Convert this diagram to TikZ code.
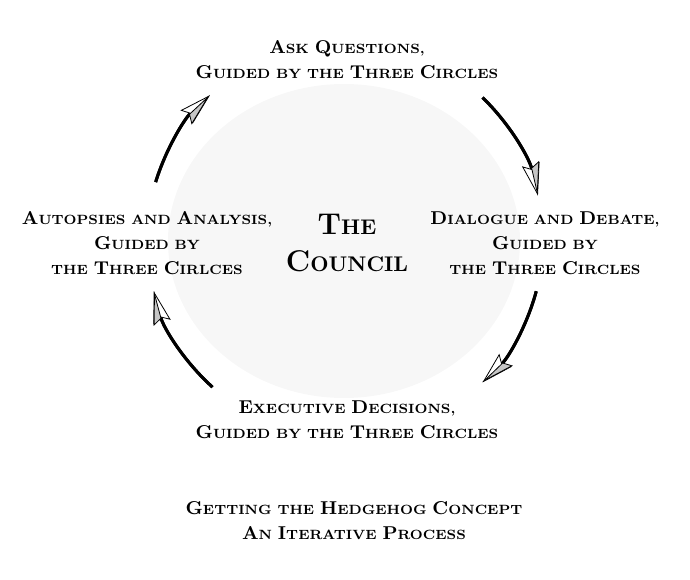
\documentclass[tikz,border=0pt]{standalone}
\usetikzlibrary{arrows.meta,positioning,calc}
\newcommand\Cap[1]{{\fontsize{9.3}{12.5}\selectfont #1}}
\newcommand\HubCap[1]{{\fontsize{15}{18.5}\selectfont #1}}
\tikzset{
 stage/.style={align=center,inner sep=0pt,font=\fontsize{6.7}{12.5}\selectfont\bfseries},
 hubtext/.style={align=center,inner sep=0pt,font=\fontsize{10.6}{18.5}\selectfont\bfseries},
 cyclearrow/.style={line width=1.5pt,
   -{Stealth[length=16pt,width=9pt,inset=2.5pt,line width=0.4pt,fill=white]}},
 cycleshade/.style={line width=1.5pt,
   -{Stealth[length=16pt,width=9pt,inset=2.5pt,line width=0.4pt,fill=gray!45,#1]}}
}
\begin{document}
\begin{tikzpicture}[x=0.5pt,y=0.5pt]
\useasboundingbox (0,0) rectangle (690,579);
\fill[gray!6] (344,338) ellipse[x radius=176,y radius=157];
\coordinate (hub) at (345,339);
% stages of the cycle
\node[hubtext] (council) at (347,336) {\HubCap{T}HE\\\HubCap{C}OUNCIL};
\node[stage] (ask) at (347,519) {\Cap{A}SK \Cap{Q}UESTIONS,\\\Cap{G}UIDED BY THE \Cap{T}HREE \Cap{C}IRCLES};
\node[stage] (debate) at (545,336) {\Cap{D}IALOGUE AND \Cap{D}EBATE,\\\Cap{G}UIDED BY\\THE \Cap{T}HREE \Cap{C}IRCLES};
\node[stage] (decide) at (347,159) {\Cap{E}XECUTIVE \Cap{D}ECISIONS,\\\Cap{G}UIDED BY THE \Cap{T}HREE \Cap{C}IRCLES};
\node[stage] (autopsy) at (147,336) {\Cap{A}UTOPSIES AND \Cap{A}NALYSIS,\\\Cap{G}UIDED BY\\THE \Cap{T}HREE \Cap{C}IRLCES};
\node[stage] (caption) at (354,58) {\Cap{G}ETTING THE \Cap{H}EDGEHOG \Cap{C}ONCEPT\\\Cap{A}N \Cap{I}TERATIVE \Cap{P}ROCESS};
% arrows round the council
\coordinate (a1) at ($(hub)+(163:198)$);
\coordinate (a2) at ($(hub)+(46:198)$);
\coordinate (a3) at ($(hub)+(-15:198)$);
\coordinate (a4) at ($(hub)+(228:198)$);
\draw[cyclearrow] (a1) arc[start angle=163,end angle=133,radius=198];
\draw[cycleshade=right] (a1) arc[start angle=163,end angle=133,radius=198];
\draw[cyclearrow] (a2) arc[start angle=46,end angle=13,radius=198];
\draw[cycleshade=left] (a2) arc[start angle=46,end angle=13,radius=198];
\draw[cyclearrow] (a3) arc[start angle=-15,end angle=-46,radius=198];
\draw[cycleshade=left] (a3) arc[start angle=-15,end angle=-46,radius=198];
\draw[cyclearrow] (a4) arc[start angle=228,end angle=195,radius=198];
\draw[cycleshade=left] (a4) arc[start angle=228,end angle=195,radius=198];
\end{tikzpicture}
\end{document}
